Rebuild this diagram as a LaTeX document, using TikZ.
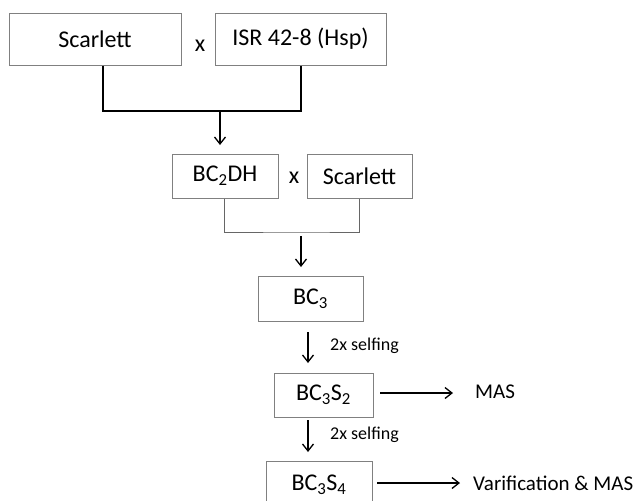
\documentclass[tikz,border=0pt]{standalone}
\usepackage{fontspec}
\setmainfont{Carlito}
\usetikzlibrary{arrows.meta}
\begin{document}
\begin{tikzpicture}[x=1pt,y=-1pt,
  box/.style={draw=black!50,line width=1pt,inner sep=0pt,font=\fontsize{24}{28}\selectfont},
  lbl/.style={inner sep=0pt,font=\fontsize{18}{22}\selectfont,anchor=west},
  mas/.style={inner sep=0pt,font=\fontsize{21}{25}\selectfont,anchor=west},
  cross/.style={inner sep=0pt,font=\fontsize{24}{28}\selectfont},
  conn/.style={line width=1.4pt,black},
  conng/.style={line width=1pt,black!60},
  arr/.style={line width=1.3pt,black,-{Straight Barb[length=7pt,width=11pt]}}]
\useasboundingbox (0,0) rectangle (641,501);
\begin{scope}
\clip (0,0) rectangle (641,501);
% nodes
\node[box,minimum width=172,minimum height=52] (scar1) at (95,39) {Scarlett};
\node[box,minimum width=171,minimum height=52] (isr) at (300.5,39) {ISR 42-8 (Hsp)};
\node[cross] (x1) at (200,46) {x};
\node[box,minimum width=106,minimum height=44] (bc2dh) at (225,176) {BC\textsubscript{2}DH};
\node[cross] (x2) at (294,177.5) {x};
\node[box,minimum width=105,minimum height=44] (scar2) at (359.5,176) {Scarlett};
\node[box,minimum width=105,minimum height=45] (bc3) at (310.5,298.5) {BC\textsubscript{3}};
\node[box,minimum width=99,minimum height=44] (bc3s2) at (323.5,395) {BC\textsubscript{3}S\textsubscript{2}};
\node[box,minimum width=106,minimum height=48] (bc3s4) at (319,485) {BC\textsubscript{3}S\textsubscript{4}};
\node[mas] (mas1) at (475,392) {MAS};
\node[mas] (mas2) at (473,483) {Varification \& MAS};
\node[lbl] (self1) at (330,346) {2x selfing};
\node[lbl] (self2) at (330,435) {2x selfing};
% junctions and arrow ends
\coordinate (j1) at (220,111);
\coordinate (a1) at (220,145);
\coordinate (j2s) at (301,236);
\coordinate (a2) at (301,267);
\coordinate (a3s) at (308,332);
\coordinate (a3) at (308,363);
\coordinate (a4s) at (308,420);
\coordinate (a4) at (308,452);
\coordinate (a5s) at (380,393);
\coordinate (a5) at (453,393);
\coordinate (a6s) at (377,483);
\coordinate (a6) at (460,483);
% connectors
\draw[conn] ([xshift=8]scar1.south) |- (j1) -| ([xshift=0.5]isr.south);
\draw[arr] (j1) -- (a1);
\draw[conng] ([xshift=-1]bc2dh.south) |- (301,232) -| (scar2.south);
\draw[arr] (j2s) -- (a2);
\draw[arr] (a3s) -- (a3);
\draw[arr] (a4s) -- (a4);
\draw[arr] (a5s) -- (a5);
\draw[arr] (a6s) -- (a6);
\end{scope}
\end{tikzpicture}
\end{document}
